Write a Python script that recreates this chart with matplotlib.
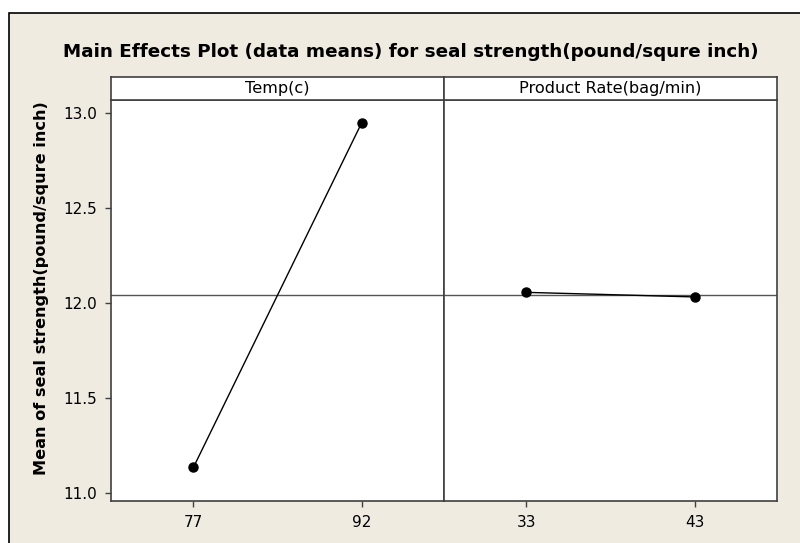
import matplotlib.pyplot as plt
from matplotlib.patches import Rectangle

# factor levels and mean responses
factors = ['Temp(c)', 'Product Rate(bag/min)']
temp_levels = [77, 92]
temp_means = [11.135, 12.947]
rate_levels = [33, 43]
rate_means = [12.056, 12.032]
grand_mean = 12.043

W, H = 800, 543
bg = '#efebe1'
edge = '#404040'

fig = plt.figure(figsize=(W / 100, H / 100), dpi=100, facecolor='white')
fig.patches.append(Rectangle((9 / W, -0.01), 1, 1 - 13 / H + 0.01, transform=fig.transFigure,
                             facecolor=bg, edgecolor='black', lw=1.2, zorder=-10))

fig.text(0.5 * (60 + 762) / W, 1 - 52 / H,
         'Main Effects Plot (data means) for seal strength(pound/squre inch)',
         ha='center', va='center', fontsize=13.2, fontweight='bold')

bottom = 1 - 500.7 / H
top = 1 - 100 / H
strip_h = 23 / H
lefts = [111 / W, 444 / W]
width = 333 / W

series = [(temp_levels, temp_means), (rate_levels, rate_means)]
for i, (lev, means) in enumerate(series):
    ax = fig.add_axes([lefts[i], bottom, width, top - bottom])
    ax.set_facecolor('white')
    ax.axhline(grand_mean, color='#555555', lw=1, zorder=1)
    ax.plot(lev, means, color='black', lw=1, marker='o', ms=6.5, zorder=3)
    span = lev[1] - lev[0]
    ax.set_xlim(lev[0] - 0.49 * span, lev[1] + 0.49 * span)
    ax.set_ylim(10.96, 13.068)
    ax.set_xticks(lev)
    ax.set_xticklabels([str(v) for v in lev])
    ax.set_yticks([11.0, 11.5, 12.0, 12.5, 13.0])
    ax.set_yticklabels(['11.0', '11.5', '12.0', '12.5', '13.0'])
    ax.tick_params(direction='out', length=4, width=1, color=edge, labelsize=11,
                   pad=6)
    if i > 0:
        ax.tick_params(axis='y', left=False, labelleft=False)
    for s in ax.spines.values():
        s.set_color(edge)
        s.set_linewidth(1.2)

    strip = fig.add_axes([lefts[i], top, width, strip_h])
    strip.set_facecolor('white')
    strip.set_xticks([])
    strip.set_yticks([])
    for s in strip.spines.values():
        s.set_color(edge)
        s.set_linewidth(1.2)
    strip.text(0.5, 0.5, factors[i], ha='center', va='center', fontsize=11.6,
               transform=strip.transAxes)

fig.text(42 / W, 1 - 288 / H, 'Mean of seal strength(pound/squre inch)', rotation=90,
         ha='center', va='center', fontsize=11.6, fontweight='bold')

fig.savefig('out.png', dpi=100, facecolor=fig.get_facecolor())
